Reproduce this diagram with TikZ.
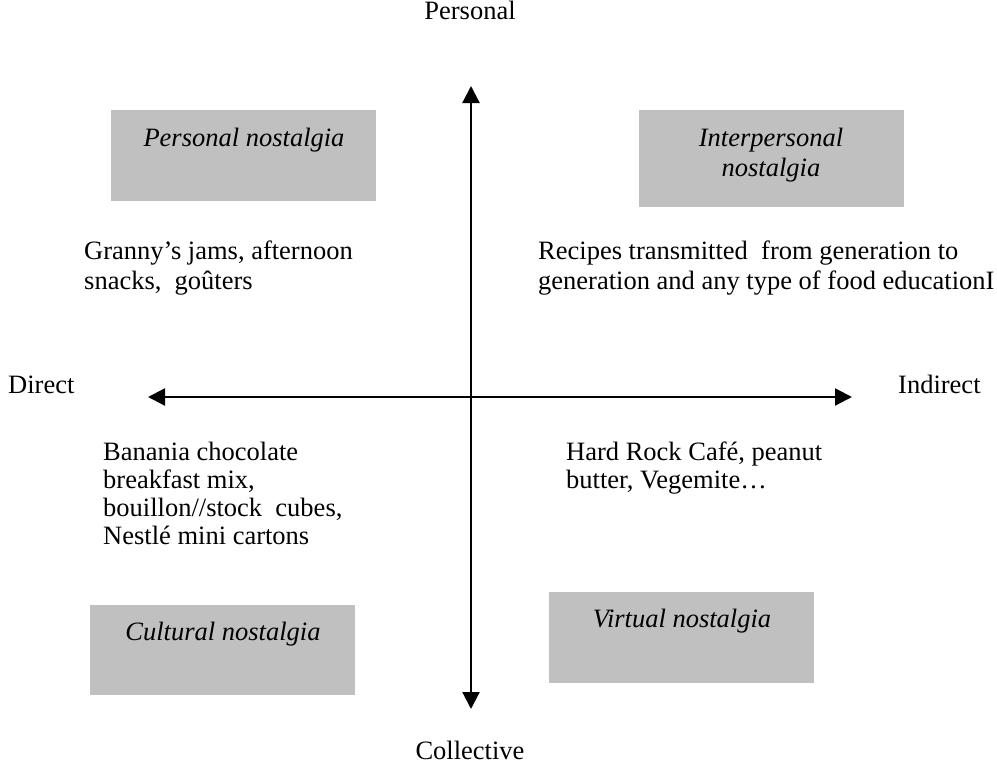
\documentclass[tikz,border=0pt]{standalone}
\usepackage{fontspec}
\setmainfont{Liberation Serif}
\usetikzlibrary{arrows.meta}
\definecolor{boxgray}{HTML}{C0C0C0}
\tikzset{
  txt/.style={inner sep=0pt, font=\fontsize{26.5bp}{29bp}\selectfont, align=left},
  boxlabel/.style={inner sep=0pt, font=\fontsize{26.5bp}{30bp}\selectfont\itshape, align=center},
  graybox/.style={fill=boxgray, draw=none, inner sep=0pt},
  axis/.style={line width=2.2bp, {Triangle[length=17bp,width=17bp]}-{Triangle[length=17bp,width=17bp]}}
}
\begin{document}
\begin{tikzpicture}[x=1bp,y=-1bp]
\useasboundingbox (0,0) rectangle (997,764);
% gray boxes
\node[graybox, minimum width=265bp, minimum height=91bp] (bpn) at (243.5,155.5) {};
\node[graybox, minimum width=265bp, minimum height=97bp] (bip) at (771.5,158.5) {};
\node[graybox, minimum width=265bp, minimum height=90bp] (bcn) at (222.5,650) {};
\node[graybox, minimum width=265bp, minimum height=91bp] (bvn) at (681.5,637.5) {};
% box labels
\node[boxlabel, anchor=base] (lpn) at (244,146) {Personal nostalgia};
\node[boxlabel, anchor=base] (lip1) at (771,146) {Interpersonal};
\node[boxlabel, anchor=base] (lip2) at (771,176) {nostalgia};
\node[boxlabel, anchor=base] (lcn) at (223,640) {Cultural nostalgia};
\node[boxlabel, anchor=base] (lvn) at (682,627) {Virtual nostalgia};
% axes
\coordinate (top) at (471,86);
\coordinate (bot) at (471,709);
\coordinate (lft) at (148,397);
\coordinate (rgt) at (852,397);
\draw[axis] (bot) -- (top);
\draw[axis] (lft) -- (rgt);
% axis labels
\node[txt, anchor=base] (personal) at (470,20) {Personal};
\node[txt, anchor=base] (collective) at (470,759) {Collective};
\node[txt, anchor=base west] (direct) at (8,393) {Direct};
\node[txt, anchor=base west] (indirect) at (898,393) {Indirect};
% quadrant texts
\node[txt, anchor=base west] (g1) at (84,259) {Granny’s jams, afternoon};
\node[txt, anchor=base west] (g2) at (84,289) {snacks,\ \ goûters};
\node[txt, anchor=base west] (r1) at (538,259) {Recipes transmitted\ \ from generation to};
\node[txt, anchor=base west] (r2) at (538,289) {generation and any type of food educationI};
\node[txt, anchor=base west] (b1) at (103,460) {Banania chocolate};
\node[txt, anchor=base west] (b2) at (103,488) {breakfast mix,};
\node[txt, anchor=base west] (b3) at (103,516) {bouillon//stock\ \ cubes,};
\node[txt, anchor=base west] (b4) at (103,544) {Nestlé mini cartons};
\node[txt, anchor=base west] (h1) at (566,460) {Hard Rock Café, peanut};
\node[txt, anchor=base west] (h2) at (566,488) {butter, Vegemite…};
\end{tikzpicture}
\end{document}
